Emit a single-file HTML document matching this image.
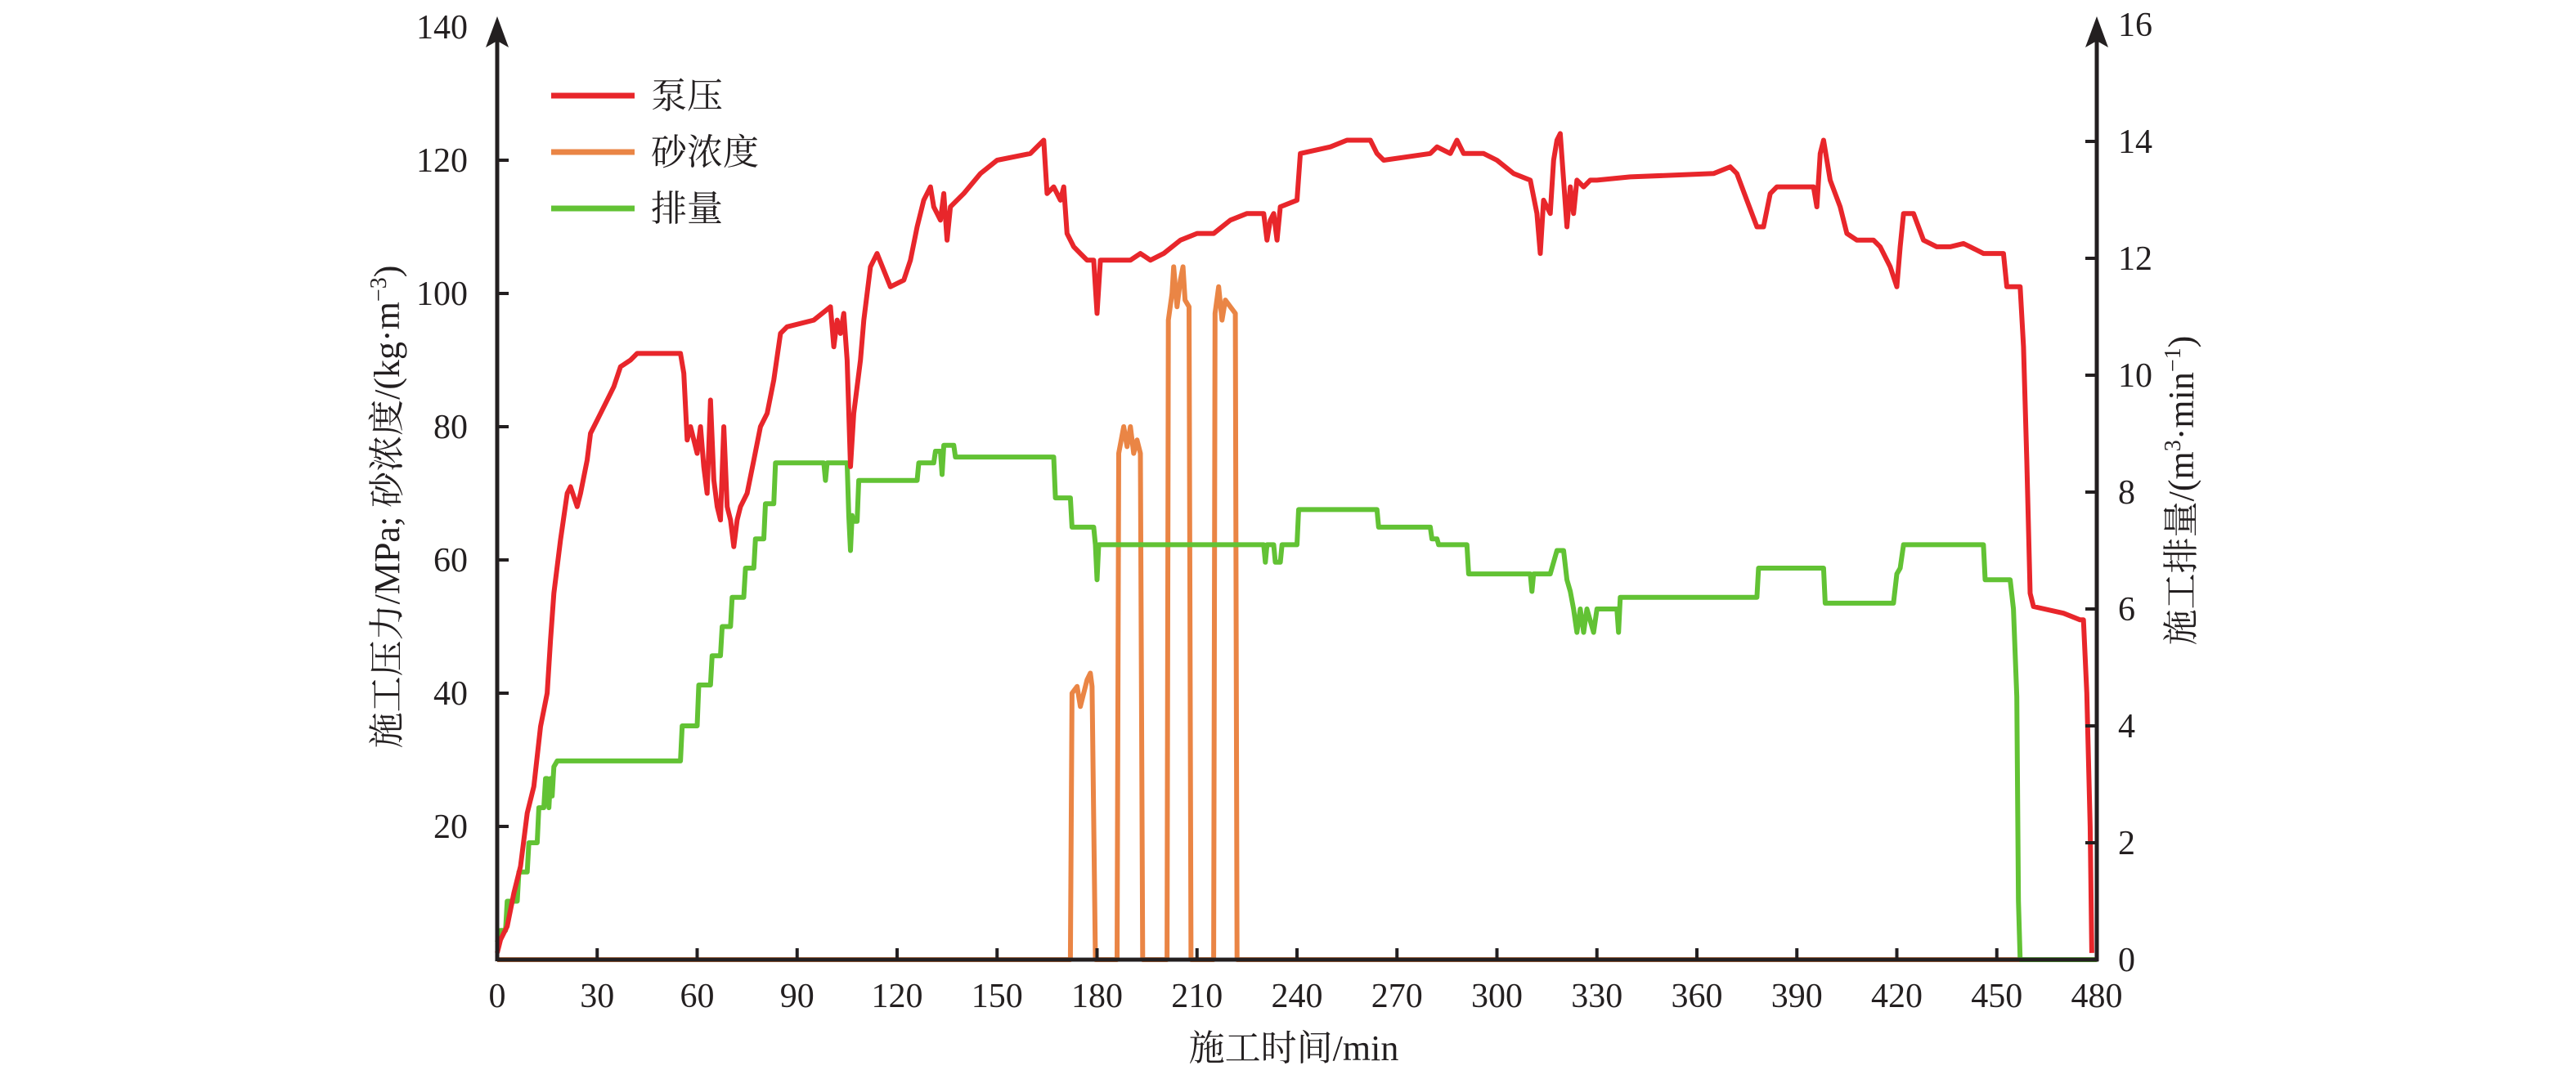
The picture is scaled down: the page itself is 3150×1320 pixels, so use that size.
<!DOCTYPE html>
<html><head><meta charset="utf-8">
<style>
html,body{margin:0;padding:0;background:#fff;}
svg{display:block;}
text{font-family:"Liberation Serif","Noto Serif CJK SC",serif;fill:#231f20;}
</style></head>
<body>
<svg id="s" width="3150" height="1320" viewBox="0 0 3150 1320" xmlns="http://www.w3.org/2000/svg">
<g id="series" fill="none" stroke-linejoin="round" stroke-width="6"></g>
<g stroke="#231f20" stroke-width="5" fill="none">
<line x1="608" y1="1174" x2="2566" y2="1174"/>
<line x1="608" y1="1176" x2="608" y2="40"/>
<line x1="2564" y1="1176" x2="2564" y2="40"/>
</g>
<polygon points="608,20 594,58 608,50 622,58" fill="#231f20"/>
<polygon points="2564,20 2550,58 2564,50 2578,58" fill="#231f20"/>
<g id="ticks" stroke="#231f20" stroke-width="4"></g>
<g id="labels" font-size="42"></g>
<g stroke-width="7">
<line x1="674" y1="117" x2="776" y2="117" stroke="#e8262b"/>
<line x1="674" y1="186" x2="776" y2="186" stroke="#ea8545"/>
<line x1="674" y1="255" x2="776" y2="255" stroke="#62c234"/>
</g>
<g font-size="44">
<text x="796" y="132">泵压</text>
<text x="796" y="201">砂浓度</text>
<text x="796" y="270">排量</text>
</g>
<text x="1582" y="1297" font-size="44" text-anchor="middle">施工时间/min</text>
<text transform="translate(488,620) rotate(-90)" font-size="44" text-anchor="middle">施工压力/MPa; 砂浓度/(kg·m<tspan dy="-16" font-size="28">−3</tspan><tspan dy="16">)</tspan></text>
<text transform="translate(2682,600) rotate(-90)" font-size="44" text-anchor="middle">施工排量/(m<tspan dy="-16" font-size="28">3</tspan><tspan dy="16">·min</tspan><tspan dy="-16" font-size="28">−1</tspan><tspan dy="16">)</tspan></text>
</svg>
<script>
var X0=608,SX=4.075,Y0=1174,SY=8.15,SR=71.5;
function px(t){return X0+t*SX;}
function pl(d,s){return d.map(function(p){return px(p[0]).toFixed(1)+","+(Y0-p[1]*s).toFixed(1)}).join(" ");}
var P=[[0,1],[1,3],[3,5],[5,10],[7,14],[9,22],[11,26],[13,35],[15,40],[16,48],[17,55],[19,63],[21,70],[22,71],[24,68],[25,70],[27,75],[28,79],[30,81],[33,84],[35,86],[37,89],[40,90],[42,91],[55,91],[56,88],[57,78],[58,80],[60,76],[61,80],[62,74],[63,70],[64,84],[65,72],[66,68],[67,66],[68,80],[69,68],[70,66],[71,62],[72,66],[73,68],[75,70],[77,75],[79,80],[81,82],[83,87],[85,94],[87,95],[95,96],[100,98],[101,92],[102,96],[103,94],[104,97],[105,90],[106,74],[107,82],[109,90],[110,96],[112,104],[114,106],[118,101],[122,102],[124,105],[126,110],[128,114],[130,116],[131,113],[133,111],[134,115],[135,108],[136,113],[140,115],[145,118],[150,120],[160,121],[164,123],[165,115],[167,116],[169,114],[170,116],[171,109],[173,107],[175,106],[177,105],[179,105],[180,97],[181,105],[190,105],[193,106],[196,105],[200,106],[205,108],[210,109],[215,109],[220,111],[225,112],[230,112],[231,108],[232,111],[233,112],[234,108],[235,113],[240,114],[241,121],[250,122],[255,123],[262,123],[264,121],[266,120],[280,121],[282,122],[286,121],[288,123],[290,121],[292,121],[296,121],[300,120],[305,118],[310,117],[312,112],[313,106],[314,114],[316,112],[317,120],[318,123],[319,124],[320,117],[321,110],[322,116],[323,112],[324,117],[326,116],[328,117],[330,117],[340,117.5],[365,118],[370,119],[372,118],[375,114],[378,110],[380,110],[382,115],[384,116],[395,116],[396,113],[397,121],[398,123],[400,117],[403,113],[405,109],[408,108],[413,108],[415,107],[418,104],[420,101],[421,107],[422,112],[425,112],[428,108],[432,107],[436,107],[440,107.5],[442,107],[446,106],[452,106],[453,101],[457,101],[458,92],[459,75],[460,55],[461,53],[470,52],[475,51],[476,51],[477,40],[478,20],[478.5,1]];
var S=[[0,0],[172,0],[172.5,40],[174,41],[175,38],[177,42],[178,43],[178.5,41],[179.5,0],[186,0],[186.5,76],[188,80],[189,77],[190,80],[191,76],[192,78],[193,76],[193.7,0],[201,0],[201.4,96],[202.5,100],[203,104],[204,98],[205,102],[205.8,104],[206.4,99],[207.6,98],[208.2,0],[215,0],[215.4,97],[216.5,101],[217.5,96],[218.5,99],[220,98],[221.5,97],[222,0],[480,0]];
var Q=[[0,0.3],[1,0.5],[2.5,0.5],[3,1.0],[6,1.0],[6.5,1.5],[9,1.5],[9.5,2.0],[12,2.0],[12.5,2.6],[14,2.6],[14.5,3.1],[15,3.1],[15.5,2.6],[16,3.1],[16.5,2.8],[17,3.3],[18,3.4],[55,3.4],[55.5,4.0],[60,4.0],[60.5,4.7],[64,4.7],[64.5,5.2],[67,5.2],[67.5,5.7],[70,5.7],[70.5,6.2],[74,6.2],[74.5,6.7],[77,6.7],[77.5,7.2],[80,7.2],[80.5,7.8],[83,7.8],[83.5,8.5],[98,8.5],[98.5,8.2],[99,8.5],[105,8.5],[105.5,7.6],[106,7.0],[106.5,7.6],[107,7.5],[108,7.5],[108.5,8.2],[126,8.2],[126.5,8.5],[131,8.5],[131.5,8.7],[133,8.7],[133.5,8.3],[134,8.8],[137,8.8],[137.5,8.6],[167,8.6],[167.5,7.9],[172,7.9],[172.5,7.4],[179,7.4],[179.5,7.1],[180,6.5],[180.5,7.1],[230,7.1],[230.5,6.8],[231,7.1],[233,7.1],[233.5,6.8],[235,6.8],[235.5,7.1],[240,7.1],[240.5,7.7],[260,7.7],[264,7.7],[264.5,7.4],[280,7.4],[280.5,7.2],[282,7.2],[282.5,7.1],[291,7.1],[291.5,6.6],[310,6.6],[310.5,6.3],[311,6.6],[316,6.6],[318,7.0],[320,7.0],[321,6.5],[322,6.3],[323,6.0],[324,5.6],[325,6.0],[326,5.6],[327,6.0],[329,5.6],[330,6.0],[336,6.0],[336.5,5.6],[337,6.2],[378,6.2],[378.5,6.7],[398,6.7],[398.5,6.1],[419,6.1],[420,6.6],[421,6.7],[422,7.1],[446,7.1],[446.5,6.5],[454,6.5],[455,6.0],[456,4.5],[456.5,1],[457,0],[480,0]];
var g=document.getElementById('series');
g.innerHTML='<polyline stroke="#ea8545" points="'+pl(S,SY)+'"/>'+
'<polyline stroke="#62c234" points="'+pl(Q,SR)+'"/>'+
'<polyline stroke="#e8262b" points="'+pl(P,SY)+'"/>';
var tk='',lb='';
for(var t=0;t<=480;t+=30){var x=px(t);if(t>0&&t<480)tk+='<line x1="'+x+'" y1="1174" x2="'+x+'" y2="1160"/>';lb+='<text x="'+x+'" y="1232" text-anchor="middle">'+t+'</text>';}
for(var v=20;v<=140;v+=20){var y=Y0-v*SY;if(v<140)tk+='<line x1="608" y1="'+y+'" x2="622" y2="'+y+'"/>';lb+='<text x="572" y="'+(y+14)+'" text-anchor="end">'+v+'</text>';}
for(var r=0;r<=16;r+=2){var y=Y0-r*SR;if(r>0&&r<16)tk+='<line x1="2564" y1="'+y+'" x2="2550" y2="'+y+'"/>';lb+='<text x="2590" y="'+(y+14)+'">'+r+'</text>';}
document.getElementById('ticks').innerHTML=tk;
document.getElementById('labels').innerHTML=lb;
</script>
</body></html>
